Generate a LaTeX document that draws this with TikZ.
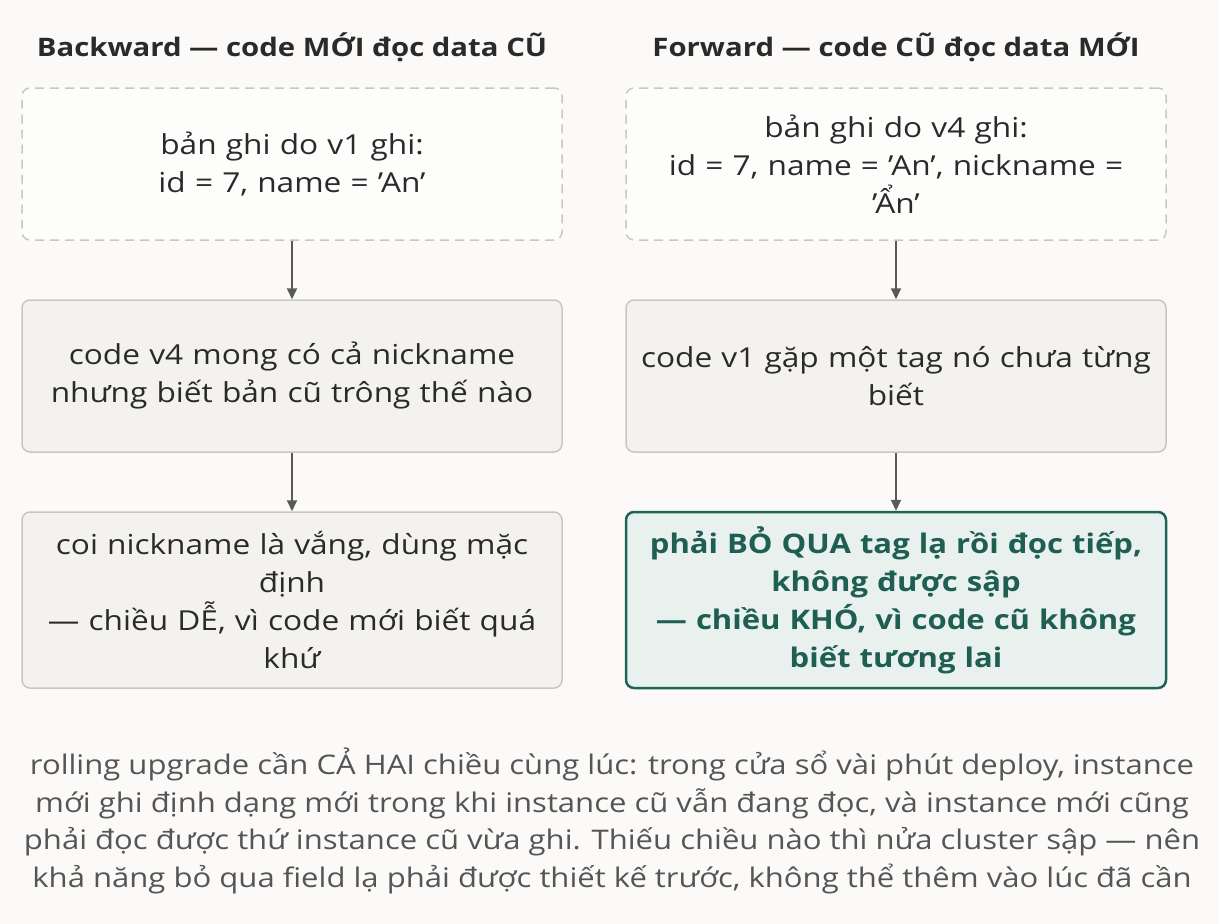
\documentclass[tikz,border=0pt]{standalone}
\usepackage{fontspec}
\setmainfont{Open Sans}[FakeStretch=1.15]
\usetikzlibrary{arrows.meta}
\definecolor{bg}{HTML}{FBFAF8}
\definecolor{bfill}{HTML}{F3F2EE}
\definecolor{bdraw}{HTML}{C9C8C0}
\definecolor{gfill}{HTML}{E9F1EE}
\definecolor{gdraw}{HTML}{1F6358}
\definecolor{gtext}{HTML}{1F5E52}
\definecolor{txt}{HTML}{2A2A2A}
\definecolor{cap}{HTML}{555555}
\begin{document}
\begin{tikzpicture}[x=1pt,y=-1pt,
  box/.style={draw=bdraw,line width=1.5pt,fill=bfill,rounded corners=8pt,minimum width=540pt,align=center,font=\fontsize{27.5}{38}\selectfont,text=txt,text width=530pt},
  dbox/.style={box,fill=white!60!bg,dash pattern=on 9pt off 6pt},
  gbox/.style={box,draw=gdraw,line width=2.5pt,fill=gfill,text=gtext,font=\fontsize{27}{38}\selectfont\bfseries},
  ttl/.style={font=\fontsize{25.5}{28}\selectfont\bfseries,text=txt},
  arr/.style={-{Triangle[length=11pt,width=10pt]},line width=2pt,draw=black!65}]
\fill[bg] (0,0) rectangle (1219,924);
\useasboundingbox (0,0) rectangle (1219,924);
\node[ttl] (t1) at (292,47) {Backward — code MỚI đọc data CŨ};
\node[ttl] (t2) at (896,47) {Forward — code CŨ đọc data MỚI};
\node[dbox,minimum height=152pt] (a1) at (292,164) {bản ghi do v1 ghi:\\id = 7, name = 'An'};
\node[box,minimum height=152pt] (a2) at (292,376) {code v4 mong có cả nickname\\nhưng biết bản cũ trông thế nào};
\node[box,minimum height=176pt] (a3) at (292,600) {coi nickname là vắng, dùng mặc\\định\\— chiều DỄ, vì code mới biết quá\\khứ};
\node[dbox,minimum height=152pt] (b1) at (896,164) {bản ghi do v4 ghi:\\id = 7, name = 'An', nickname =\\'Ẩn'};
\node[box,minimum height=152pt] (b2) at (896,376) {code v1 gặp một tag nó chưa từng\\biết};
\node[gbox,minimum height=176pt] (b3) at (896,600) {phải BỎ QUA tag lạ rồi đọc tiếp,\\không được sập\\— chiều KHÓ, vì code cũ không\\biết tương lai};
\draw[arr] (a1) -- (a2);
\draw[arr] (a2) -- (a3);
\draw[arr] (b1) -- (b2);
\draw[arr] (b2) -- (b3);
\node[align=center,text=cap,font=\fontsize{27}{37.5}\selectfont] (c) at (612,821) {rolling upgrade cần CẢ HAI chiều cùng lúc: trong cửa sổ vài phút deploy, instance\\mới ghi định dạng mới trong khi instance cũ vẫn đang đọc, và instance mới cũng\\phải đọc được thứ instance cũ vừa ghi. Thiếu chiều nào thì nửa cluster sập — nên\\khả năng bỏ qua field lạ phải được thiết kế trước, không thể thêm vào lúc đã cần};
\end{tikzpicture}
\end{document}
